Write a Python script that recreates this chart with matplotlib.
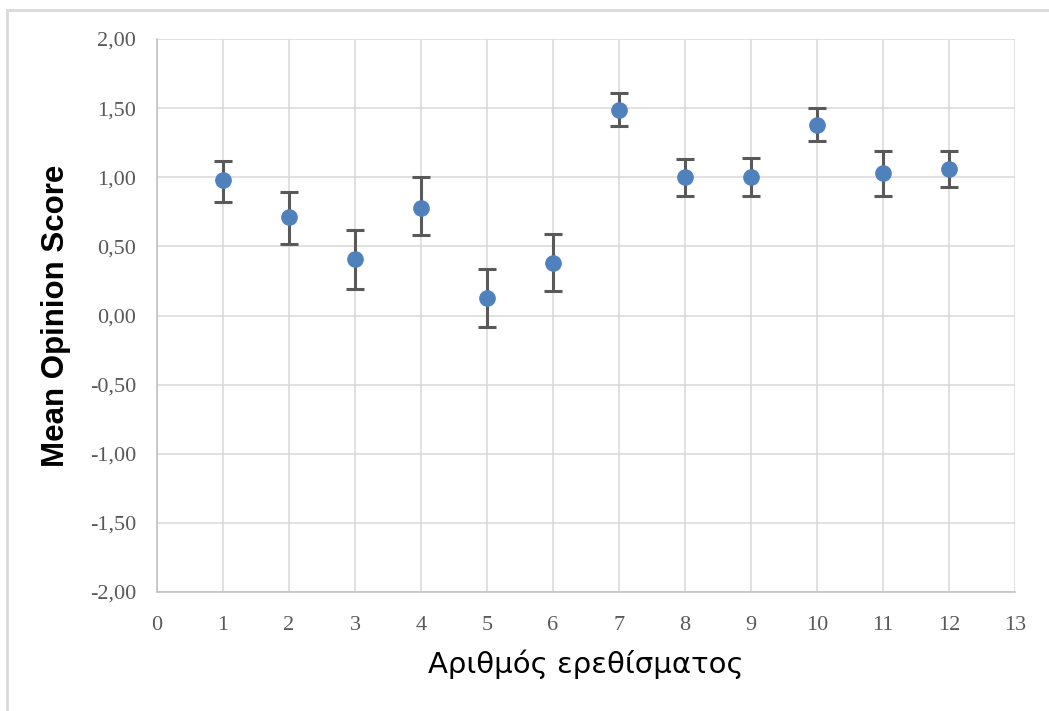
import matplotlib.pyplot as plt
from matplotlib.patches import Rectangle
from matplotlib.ticker import FuncFormatter

# stimulus number and mean opinion score with error bounds
stimulus = [1, 2, 3, 4, 5, 6, 7, 8, 9, 10, 11, 12]
mos = [0.98, 0.71, 0.41, 0.78, 0.13, 0.38, 1.49, 1.00, 1.00, 1.38, 1.03, 1.06]
err_up = [0.14, 0.18, 0.21, 0.22, 0.21, 0.21, 0.12, 0.13, 0.14, 0.12, 0.16, 0.13]
err_down = [0.16, 0.19, 0.22, 0.20, 0.21, 0.20, 0.12, 0.135, 0.135, 0.12, 0.165, 0.13]

y_ticks = [-2.0, -1.5, -1.0, -0.5, 0.0, 0.5, 1.0, 1.5, 2.0]
x_ticks = list(range(0, 14))

fig = plt.figure(figsize=(10.49, 7.11), dpi=100)
ax = fig.add_axes([0.1497, 0.1674, 0.8179, 0.7777])

ax.errorbar(stimulus, mos, yerr=[err_down, err_up], fmt='o', color='#4f81bd',
            markersize=11, ecolor='#595959', elinewidth=2.2, capsize=6.5,
            capthick=2.2, zorder=3)

ax.set_xlim(0, 13)
ax.set_ylim(-2, 2)
ax.set_xticks(x_ticks)
ax.set_yticks(y_ticks)
ax.yaxis.set_major_formatter(FuncFormatter(lambda v, p: f"{v:.2f}".replace('.', ',')))
ax.grid(True, color='#d9d9d9', linewidth=1.1, zorder=0)
ax.set_axisbelow(True)
for s in ['top', 'right']:
    ax.spines[s].set_visible(False)
for s in ['left', 'bottom']:
    ax.spines[s].set_color('#bfbfbf')
    ax.spines[s].set_linewidth(1.1)
ax.tick_params(length=0, labelsize=16, labelcolor='#595959')
ax.tick_params(axis='y', pad=15)
ax.tick_params(axis='x', pad=17)
for lab in ax.get_xticklabels() + ax.get_yticklabels():
    lab.set_fontfamily('Liberation Serif')

ax.set_ylabel('Mean Opinion Score', fontsize=22.5, family='Liberation Sans',
              fontweight='bold', labelpad=14)
ax.set_xlabel('Αριθμός ερεθίσματος', fontsize=21, family='DejaVu Sans', labelpad=11)

# chart area border
fig.patches.append(Rectangle((7 / 1049, -0.1), 1.2, 1 - 10 / 711 + 0.1,
                             transform=fig.transFigure, fill=False,
                             edgecolor='#d9d9d9', linewidth=2))

fig.savefig('out.png', dpi=100)
